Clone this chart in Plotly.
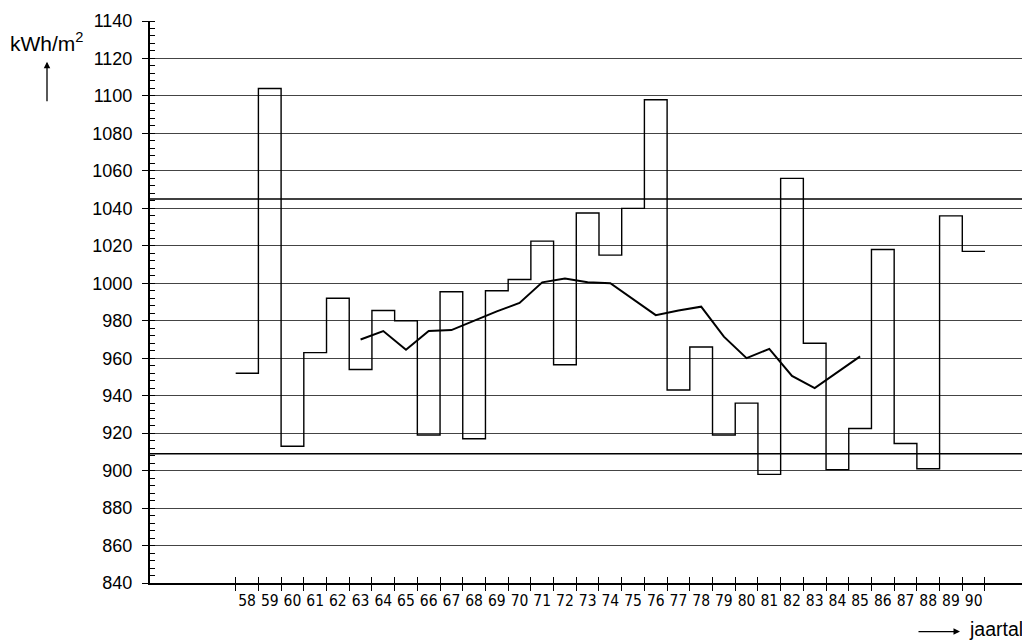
import plotly.graph_objects as go

# ---- data ----
years = list(range(58, 91))
year_labels = [str(y) for y in years]
annual_values = [952, 1104, 913, 963, 992, 954, 985.5, 980, 919, 995.5, 917,
                 996, 1002, 1022.5, 956.5, 1037.5, 1015, 1040, 1098, 943,
                 966, 919, 936, 898, 1056, 968, 900.5, 922.5, 1018, 914.5,
                 901, 1036, 1017]
avg_years = list(range(63, 86))
avg_values = [970, 974.5, 964.5, 974.5, 975, 980, 985, 989.5, 1000.5, 1002.5,
              1000.5, 1000, 991.5, 983, 985.5, 987.5, 971.5, 960, 965, 950.5,
              944, 952.5, 961]
reference_levels = [1045, 909]
y_ticks = list(range(840, 1141, 20))

# ---- derived ----
step_x = [y - 0.5 for y in years] + [years[-1] + 0.5]
step_y = annual_values + [annual_values[-1]]
boundaries = [y - 0.5 for y in years] + [years[-1] + 0.5]

OFF = 8  # page body margin
W, H = 1030 - OFF, 640 - OFF
L, T = 150 - OFF, 16 - OFF
R = W - (1027 - OFF)
B = H - (583 - OFF)
pw, ph = W - L - R, H - T - B
xr = [53.726, 92.35]


def px(xw):
    return (xw - OFF - L) / pw


def py(yw):
    return (H - B - (yw - OFF)) / ph


fig = go.Figure()
fig.add_trace(go.Scatter(x=step_x, y=step_y, mode="lines", line_shape="hv",
                         line=dict(color="black", width=1.4),
                         hoverinfo="skip", showlegend=False))
fig.add_trace(go.Scatter(x=avg_years, y=avg_values, mode="lines",
                         line=dict(color="black", width=2),
                         hoverinfo="skip", showlegend=False))
fig.add_trace(go.Scatter(x=years, y=[None] * len(years), xaxis="x2",
                         mode="lines", showlegend=False, hoverinfo="skip"))
fig.add_trace(go.Scatter(x=years, y=[None] * len(years), xaxis="x3",
                         mode="lines", showlegend=False, hoverinfo="skip"))

for lvl in reference_levels:
    fig.add_shape(type="line", xref="paper", x0=0, x1=1, yref="y", y0=lvl, y1=lvl,
                  line=dict(color="black", width=1.6), layer="below")

font_main = "Liberation Sans, Arial, sans-serif"
font_narrow = "Liberation Sans Narrow, DejaVu Sans Condensed, sans-serif"

fig.update_layout(
    width=W, height=H,
    margin=dict(l=L, r=R, t=T, b=B, pad=0),
    plot_bgcolor="white", paper_bgcolor="white",
    xaxis=dict(range=xr, tickmode="array", tickvals=boundaries,
               ticks="outside", ticklen=6, tickwidth=1.2, tickcolor="black",
               showticklabels=False, showgrid=False, zeroline=False,
               showline=True, linecolor="black", linewidth=2),
    xaxis2=dict(overlaying="x", matches="x", anchor="y", side="bottom",
                tickmode="array", tickvals=boundaries,
                ticks="inside", ticklen=6, tickwidth=1.2, tickcolor="black",
                showticklabels=False, showgrid=False, zeroline=False, showline=False),
    xaxis3=dict(overlaying="x", matches="x", anchor="y", side="bottom",
                tickmode="array", tickvals=years, ticktext=year_labels,
                ticks="outside", ticklen=3, tickcolor="rgba(0,0,0,0)",
                tickfont=dict(family=font_narrow, size=15.5, color="black"),
                showgrid=False, zeroline=False, showline=False),
    yaxis=dict(range=[840, 1140], tickmode="array", tickvals=y_ticks,
               ticks="outside", ticklen=6, tickwidth=1.2, tickcolor="black",
               ticklabelstandoff=6, ticklabeloverflow="allow",
               tickfont=dict(family=font_main, size=18, color="black"),
               showgrid=True, gridcolor="#444", gridwidth=1, zeroline=False,
               showline=True, linecolor="black", linewidth=2,
               minor=dict(ticks="inside", dtick=4, tick0=840, ticklen=5,
                          tickcolor="black", tickwidth=1.2, showgrid=False)),
    showlegend=False,
)

fig.add_annotation(xref="paper", yref="paper", x=px(47), y=py(37),
                   text="kWh/m<sup>2</sup>", showarrow=False,
                   font=dict(family=font_main, size=21, color="black"),
                   xanchor="center", yanchor="middle")
fig.add_annotation(xref="paper", yref="paper", x=px(47), y=py(57),
                   ax=0, ay=41, text="", showarrow=True, arrowhead=2,
                   arrowsize=1, arrowwidth=1.3, arrowcolor="black")
fig.add_annotation(xref="paper", yref="paper", x=px(960), y=py(632),
                   ax=-43, ay=0, text="", showarrow=True, arrowhead=2,
                   arrowsize=1, arrowwidth=1.3, arrowcolor="black")
fig.add_annotation(xref="paper", yref="paper", x=px(967), y=py(629),
                   text="jaartal", showarrow=False, xanchor="left", yanchor="middle",
                   font=dict(family=font_main, size=19.5, color="black"))

fig.write_html("out.html")
